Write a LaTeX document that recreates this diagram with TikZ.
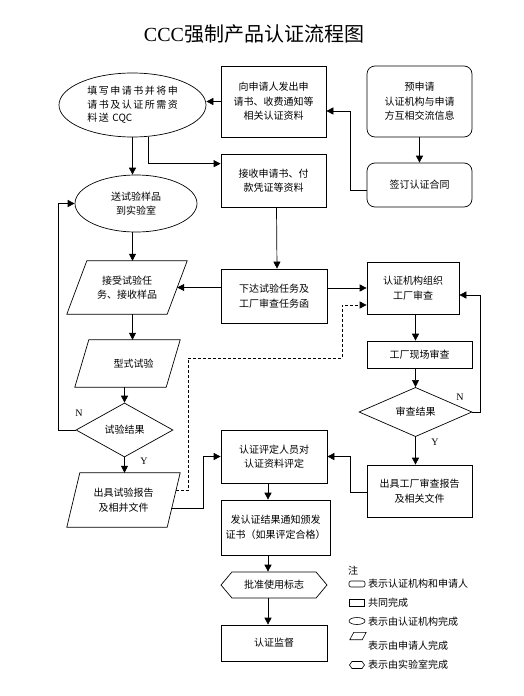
\documentclass[tikz,border=0pt]{standalone}
\usepackage{fontspec}
\setmainfont{Liberation Serif}
\newfontfamily\cjk{Noto Sans CJK SC}
\newfontfamily\cjkwide{Noto Sans CJK SC}[LetterSpace=15]
\usetikzlibrary{shapes.geometric,shapes.symbols,arrows.meta,calc}
\tikzset{
  txt/.style={font=\cjk\fontsize{10}{14.5}\selectfont},
  shp/.style={txt, draw, line width=0.7pt, inner sep=1pt, align=center},
  bx/.style={shp, rectangle},
  rbx/.style={shp, rectangle, rounded corners=8pt},
  el/.style={shp, ellipse, inner sep=0pt},
  parabox/.style={txt, rectangle, inner sep=1pt, align=center},
  paraline/.style={draw, line width=0.7pt},
  dia/.style={shp, diamond, inner sep=0pt},
  hexa/.style={shp, signal, signal to=east and west, signal pointer angle=100, inner sep=0pt},
  lbl/.style={font=\rmfamily\fontsize{10}{12}\selectfont, inner sep=0pt},
  lgt/.style={txt, anchor=west, inner sep=0pt},
  arr/.style={draw, line width=0.7pt, -{Triangle[length=7pt,width=7pt]}},
}
% parallelogram outline around a node: #1 node name, #2 slant
\newcommand\drawpara[3][paraline]{%
  \draw[#1] ($(#2.north west)+(#3,0)$) -- (#2.north east) -- ($(#2.south east)+(-#3,0)$) -- (#2.south west) -- cycle;}
\begin{document}
\begin{tikzpicture}[x=1pt,y=-1pt]
\fill[white] (0,0) rectangle (523,696);
\useasboundingbox (0,0) rectangle (523,696);

\node[font=\fontsize{20}{23}\selectfont, inner sep=0pt] (title) at (254,34) {{\rmfamily CCC}{\cjk 强制产品认证流程图}};

\node[el, minimum width=147, minimum height=64, align=left, font=\cjkwide\fontsize{10}{13.5}\selectfont] (n1) at (132.5,105) {填写申请书并将申\\请书及认证所需资\\料送 {\cjk CQC}};
\node[bx, minimum width=105, minimum height=71] (n2) at (273.5,101.5) {向申请人发出申\\请书、收费通知等\\相关认证资料};
\node[rbx, minimum width=105, minimum height=71] (n3) at (419.5,101.5) {预申请\\认证机构与申请\\方互相交流信息};
\node[rbx, minimum width=105, minimum height=44] (n4) at (419.5,185) {签订认证合同};
\node[bx, minimum width=105, minimum height=53] (n5) at (273.5,180.5) {接收申请书、付\\款凭证等资料};
\node[el, minimum width=122, minimum height=57] (n6) at (136,203.5) {送试验样品\\到实验室};
\node[parabox, minimum width=120, minimum height=53] (n7) at (127,287.5) {接受试验任\\务、接收样品};
\drawpara{n7}{20}
\node[bx, minimum width=106, minimum height=54] (n8) at (274,296) {下达试验任务及\\工厂审查任务函};
\node[bx, minimum width=92, minimum height=52] (n9) at (413,288) {认证机构组织\\工厂审查};
\node[parabox, minimum width=105, minimum height=47] (n10) at (127.5,363.5) {\hspace*{12pt}型式试验};
\drawpara{n10}{14}
\node[dia, minimum width=97, minimum height=54] (n11) at (124.5,430) {试验结果};
\node[bx, minimum width=105, minimum height=27] (n12) at (419.5,354.5) {工厂现场审查};
\node[dia, minimum width=113, minimum height=36] (n13) at (415.5,412) {审查结果};
\node[bx, minimum width=106, minimum height=53] (n14) at (274,456.5) {认证评定人员对\\认证资料评定};
\node[bx, minimum width=105, minimum height=52] (n15) at (419.5,491) {出具工厂审查报告\\及相关文件};
\node[parabox, minimum width=113, minimum height=54] (n16) at (123.5,500) {出具试验报告\\及相并文件};
\drawpara{n16}{13}
\node[bx, minimum width=109, minimum height=55] (n17) at (275.5,527.5) {发认证结果通知颁发\\证书（如果评定合格）};
\node[hexa, minimum width=106, minimum height=26] (n18) at (274,585) {批准使用标志};
\node[bx, minimum width=106, minimum height=36] (n19) at (274,643) {认证监督};

\node[lbl] (lN1) at (79,413) {N};
\node[lbl] (lY1) at (144,461) {Y};
\node[lbl] (lN2) at (460,397) {N};
\node[lbl] (lY2) at (435,442) {Y};

% connectors
\draw[arr] (n2.west) -- (n2.west -| n1.east);
\draw[arr] ($(n4.west)+(0,5)$) -- ++(-16,0) |- ($(n2.east)+(0,9.5)$);
\draw[arr] (n3.south) -- (n4.north);
\draw[arr] (n1.south) -- (n1.south |- n6.north);
\draw[arr] (n1.-64) |- ($(n5.north west)+(0,10)$);
\draw[arr] ($(n5.south)+(3,0)$) -- ($(n8.north)+(3,0)$);
\draw[arr] (n6.south -| n1.south) -- (n7.north -| n1.south);
\draw[arr] (n8.west |- n7.east) -- ($(n7.east)+(-10,0)$);
\draw[arr] (n8.east |- n9.west) -- (n9.west);
\draw[arr] (n7.south -| n1.south) -- (n10.north -| n1.south);
\draw[arr] (n10.south -| n11.north) -- (n11.north);
\draw[arr] (n11.west) -- ++(-17,0) |- (n6.west);
\draw[arr] (n11.south) -- (n11.south |- n16.north);
\coordinate (d0) at ($(n16.north east)+(-4,18)$);
\coordinate (dj1) at (188,358);
\coordinate (dj2) at (342,305);
\draw[arr, dash pattern=on 3pt off 2pt] (d0) -| (dj1) -| (dj2) -- (dj2 -| n9.west);
\draw[arr] (n9.south -| n13.north) -- (n12.north -| n13.north);
\draw[arr] (n12.south -| n13.north) -- (n13.north);
\draw[arr] (n13.east) -- ++(8,0) |- ($(n9.east)+(0,7)$);
\draw[arr] (n13.south) -- (n13.south |- n15.north);
\draw[arr] ($(n15.west)+(0,1)$) -- ++(-16,0) |- (n14.east);
\coordinate (t0) at ($(n16.north east)+(-9,36)$);
\draw[arr] (t0) -| ($(n14.west)+(-17,0)$) -- (n14.west);
\coordinate (colC) at (268,0);
\draw[arr] (n14.south -| colC) -- (n17.north -| colC);
\draw[arr] (n17.south -| colC) -- (n18.north -| colC);
\draw[arr] (n18.south -| colC) -- (n19.north -| colC);

% legend
\node[txt, inner sep=0pt] (lg0) at (353,571) {注};
\node[draw, line width=0.6pt, rounded corners=2pt, minimum width=16, minimum height=6, inner sep=0pt] (ic1) at (357,584) {};
\node[lgt] (lt1) at (368,584) {表示认证机构和申请人};
\node[draw, line width=0.6pt, minimum width=15, minimum height=7, inner sep=0pt] (ic2) at (357,603) {};
\node[lgt] (lt2) at (368,603) {共同完成};
\node[draw, line width=0.6pt, ellipse, minimum width=16, minimum height=7, inner sep=0pt] (ic3) at (357,621) {};
\node[lgt] (lt3) at (368,622) {表示由认证机构完成};
\node[inner sep=0pt, minimum width=16, minimum height=7] (ic4) at (358,636) {};
\drawpara[line width=0.6pt]{ic4}{4}
\node[lgt] (lt4) at (368,646) {表示由申请人完成};
\node[draw, line width=0.6pt, signal, signal to=east and west, signal pointer angle=110, minimum width=15, minimum height=7, inner sep=0pt] (ic5) at (357,665) {};
\node[lgt] (lt5) at (368,665) {表示由实验室完成};
\end{tikzpicture}
\end{document}
